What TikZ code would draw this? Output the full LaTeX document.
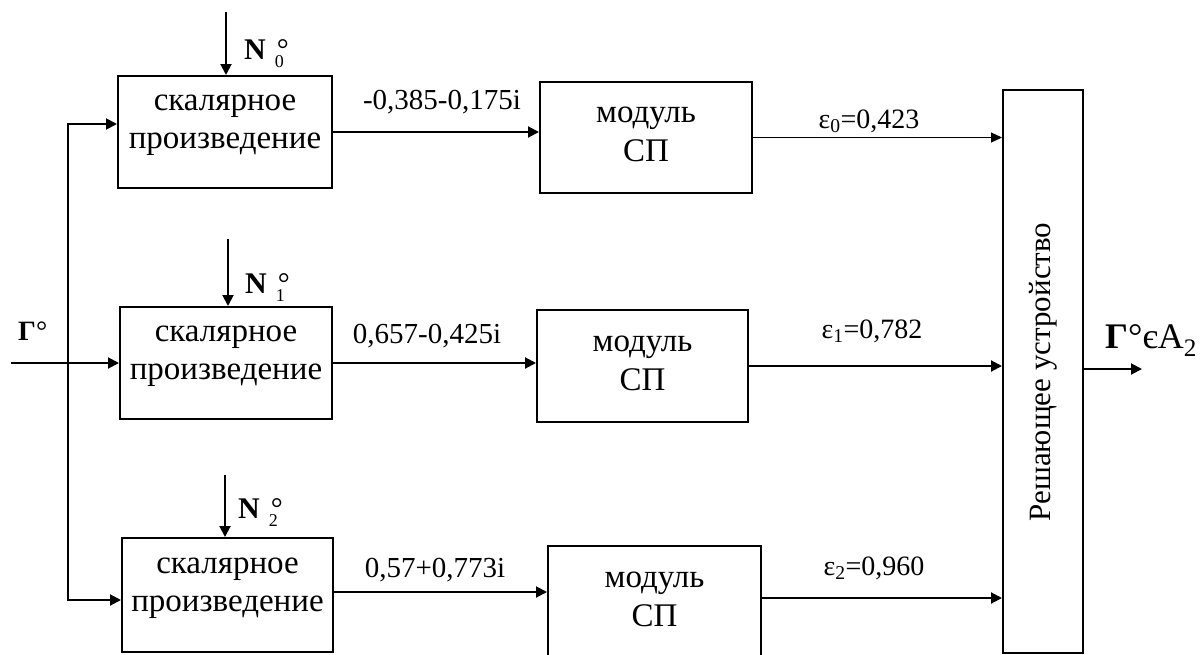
\documentclass[tikz,border=0pt]{standalone}
\usepackage{fontspec}
\setmainfont{Liberation Serif}
\usetikzlibrary{arrows.meta}
% bold N with a degree sign stacked over a small index
\newcommand\Nlab[1]{\textbf{N}\hspace{0.3em}\makebox[0pt][l]{\hspace{2pt}°}\raisebox{-0.28em}{\fontsize{18pt}{18pt}\selectfont #1}}
\begin{document}
\begin{tikzpicture}[x=1pt,y=-1pt,
  box/.style={draw, line width=2pt, inner sep=0pt},
  conn/.style={line width=2pt, -{Triangle[length=11pt,width=11pt]}},
  thinconn/.style={line width=1.1pt, -{Triangle[length=11pt,width=10pt]}},
  bus/.style={line width=2pt, {Triangle[length=11pt,width=11pt]}-{Triangle[length=11pt,width=11pt]}},
  boxtxt/.style={font=\fontsize{33pt}{38pt}\selectfont, inner sep=0pt, anchor=base},
  val/.style={font=\fontsize{29pt}{34pt}\selectfont, inner sep=0pt, anchor=base},
  eps/.style={font=\fontsize{28pt}{34pt}\selectfont, inner sep=0pt, anchor=base},
  nlab/.style={font=\fontsize{30pt}{34pt}\selectfont, inner sep=0pt, anchor=base west}]
\clip (0,0) rectangle (1201,654);

% scalar product blocks
\node[box, minimum width=214pt, minimum height=112pt] (SP1) at (225,132) {};
\node[box, minimum width=212pt, minimum height=112pt] (SP2) at (226,363) {};
\node[box, minimum width=211pt, minimum height=114pt] (SP3) at (227.5,595) {};
\foreach \b in {SP1,SP2,SP3}{
  \node[boxtxt] (\b a) at ([yshift=22pt]\b.center) {скалярное};
  \node[boxtxt] (\b b) at ([yshift=-16pt]\b.center) {произведение};
}

% modulus blocks
\node[box, minimum width=212pt, minimum height=111pt] (M1) at (646,137.5) {};
\node[box, minimum width=211pt, minimum height=112pt] (M2) at (642.5,366) {};
\node[box, minimum width=213pt, minimum height=112pt] (M3) at (654.5,602) {};
\foreach \b in {M1,M2,M3}{
  \node[boxtxt] (\b a) at ([yshift=15pt]\b.center) {модуль};
  \node[boxtxt] (\b b) at ([yshift=-24pt]\b.center) {СП};
}

% decision unit
\node[box, minimum width=80pt, minimum height=563pt] (D) at (1043,371.5) {};
\node[rotate=90, inner sep=0pt, font=\fontsize{31pt}{34pt}\selectfont] (Dt) at (1043,372) {Решающее устройство};

% reference vectors N
\coordinate (n0) at (226,12);
\coordinate (n1) at (228,239);
\coordinate (n2) at (225,475);
\draw[conn] (n0) -- (n0 |- SP1.north);
\draw[conn] (n1) -- (n1 |- SP2.north);
\draw[conn] (n2) -- (n2 |- SP3.north);
\node[nlab] (N0) at (244,59) {\Nlab{0}};
\node[nlab] (N1) at (245,293) {\Nlab{1}};
\node[nlab] (N2) at (238,518) {\Nlab{2}};

% input signal and distribution bus
\coordinate (g) at (11,363);
\draw[conn] (g) -- (g -| SP2.west);
\node[inner sep=0pt, anchor=base west, font=\fontsize{28pt}{34pt}\selectfont] (Gin) at (18,340) {\textbf{Γ}°};
\coordinate (bt) at (68,124);
\coordinate (bb) at (68,600);
\draw[bus] (bt -| SP1.west) -- (bt) -- (bb) -- (bb -| SP3.west);

% scalar products to modulus blocks
\draw[conn] (SP1.east) -- (SP1.east -| M1.west);
\draw[conn] (SP2.east) -- (SP2.east -| M2.west);
\draw[conn] ([yshift=3pt]SP3.east) -- ([yshift=3pt]SP3.east -| M3.west);
\node[val] (v1) at (442,109) {-0,385-0,175i};
\node[val] (v2) at (427,343) {0,657-0,425i};
\node[val] (v3) at (435,577) {0,57+0,773i};

% modulus values to decision unit
\draw[thinconn] (M1.east) -- (M1.east -| D.west);
\draw[conn] (M2.east) -- (M2.east -| D.west);
\draw[conn] ([yshift=4pt]M3.east) -- ([yshift=4pt]M3.east -| D.west);
\node[eps] (e0) at (869,128) {ε\textsubscript{0}=0,423};
\node[eps] (e1) at (872,338) {ε\textsubscript{1}=0,782};
\node[eps] (e2) at (874,575) {ε\textsubscript{2}=0,960};

% decision output
\coordinate (out) at (1142,369);
\draw[conn] (out -| D.east) -- (out);
\node[inner sep=0pt, anchor=base west, font=\fontsize{36pt}{40pt}\selectfont] (res) at (1105,348) {\textbf{Γ}°єA\textsubscript{2}};
\end{tikzpicture}
\end{document}
